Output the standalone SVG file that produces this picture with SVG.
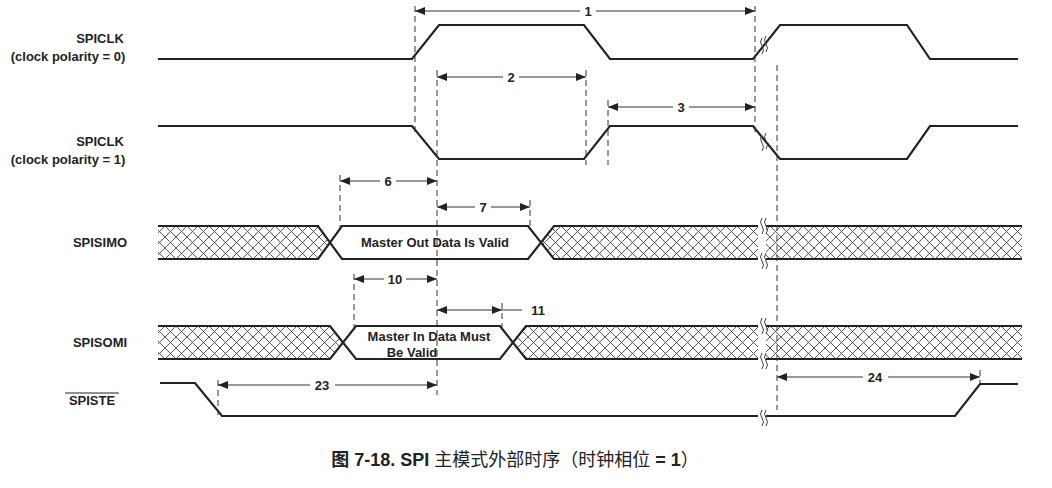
<svg xmlns="http://www.w3.org/2000/svg" width="1052" height="488" viewBox="0 0 1052 488">
<style>
.sig{fill:none;stroke:#222;stroke-width:2.2}
.dash{fill:none;stroke:#333;stroke-width:1;stroke-dasharray:6,4}
.dim{fill:none;stroke:#333;stroke-width:1}
.lbl{font-family:"Liberation Sans",Arial,sans-serif;font-weight:bold;font-size:13px;fill:#222}
.num{font-family:"Liberation Sans",Arial,sans-serif;font-weight:bold;font-size:13px;fill:#222;text-anchor:middle}
.brk{fill:none;stroke:#444;stroke-width:1}
</style>
<defs>
<pattern id="hatch" width="11" height="11" patternUnits="userSpaceOnUse" y="226">
<path d="M0,0 L11,11 M11,0 L0,11" stroke="#444" stroke-width="0.9"/>
</pattern>
<pattern id="hatch2" width="11" height="11" patternUnits="userSpaceOnUse" y="326">
<path d="M0,0 L11,11 M11,0 L0,11" stroke="#444" stroke-width="0.9"/>
</pattern>
<marker id="ah" viewBox="0 0 10 8" refX="10" refY="4" markerWidth="10" markerHeight="8" markerUnits="userSpaceOnUse" orient="auto-start-reverse">
<path d="M0,0 L10,4 L0,8 z" fill="#222"/>
</marker>
</defs>
<rect width="1052" height="488" fill="#fff"/>

<g id="labels">
<text class="lbl" x="100" y="43" text-anchor="middle">SPICLK</text>
<text class="lbl" x="68" y="61" text-anchor="middle">(clock polarity = 0)</text>
<text class="lbl" x="100" y="146" text-anchor="middle">SPICLK</text>
<text class="lbl" x="68" y="164" text-anchor="middle">(clock polarity = 1)</text>
<text class="lbl" x="100" y="247" text-anchor="middle">SPISIMO</text>
<text class="lbl" x="100" y="347" text-anchor="middle">SPISOMI</text>
<text class="lbl" x="92" y="405" text-anchor="middle">SPISTE</text>
<line x1="65" y1="393" x2="119" y2="393" stroke="#222" stroke-width="1"/>
</g>

<g id="spiclk0">
<path class="sig" d="M158,59 H412 L439,25 H584 L610,59 H753 L780,25 H907 L930,59 H1018"/>
</g>
<g id="spiclk1">
<path class="sig" d="M158,126 H412 L439,159 H584 L610,126 H753 L780,159 H907 L930,126 H1018"/>
</g>

<g id="spisimo">
<path d="M158,226 H318 L330,242.5 L318,259 H158 Z" fill="url(#hatch)"/>
<path d="M554,226 H1022 V259 H554 L542,242.5 Z" fill="url(#hatch)"/>
<path class="sig" d="M158,226 H318 L342,259 H528 L554,226 H1022 M158,259 H318 L342,226 H528 L554,259 H1022"/>
<text class="num" x="435" y="247" font-size="14">Master Out Data Is Valid</text>
</g>

<g id="spisomi">
<path d="M158,326 H330 L343,342.5 L330,359 H158 Z" fill="url(#hatch2)"/>
<path d="M526,326 H1022 V359 H526 L513,342.5 Z" fill="url(#hatch2)"/>
<path class="sig" d="M158,326 H330 L356,359 H500 L526,326 H1022 M158,359 H330 L356,326 H500 L526,359 H1022"/>
<text class="num" x="429" y="341">Master In Data Must</text>
<text class="num" x="412" y="357">Be Valid</text>
</g>

<g id="spiste">
<path class="sig" d="M160,383 H195 L222,416 H955 L980,384 H1018"/>
</g>

<g id="breaks" fill="#fff">
<rect x="758" y="220" width="8" height="44" stroke="none"/>
<rect x="758" y="320" width="8" height="44" stroke="none"/>
<rect x="758" y="410" width="8" height="12" stroke="none"/>
<path class="brk" d="M762,38 q-3,4 0,8 q3,4 0,8 M766,36 q-3,4 0,8 q3,4 0,8"/>
<path class="brk" d="M762,135 q-3,4 0,8 q3,4 0,8 M766,133 q-3,4 0,8 q3,4 0,8"/>
<path class="brk" d="M762,218 q-3,4 0,8 q3,4 0,8 M766,218 q-3,4 0,8 q3,4 0,8 M762,253 q-3,4 0,8 q3,4 0,8 M766,253 q-3,4 0,8 q3,4 0,8"/>
<path class="brk" d="M762,318 q-3,4 0,8 q3,4 0,8 M766,318 q-3,4 0,8 q3,4 0,8 M762,353 q-3,4 0,8 q3,4 0,8 M766,353 q-3,4 0,8 q3,4 0,8"/>
<path class="brk" d="M762,410 q-3,4 0,8 q3,4 0,8 M766,410 q-3,4 0,8 q3,4 0,8"/>
</g>

<g id="connectors">
<path class="dash" d="M415,6 V132 M437,70 V395 M586,70 V165 M608,100 V165 M755,6 V132 M777,65 V410 M340,175 V228 M530,200 V228 M354,274 V330 M502,303 V330 M218,380 V415 M980,370 V384"/>
<path class="dim" d="M415,11 H580" marker-start="url(#ah)"/>
<path class="dim" d="M596,11 H755" marker-end="url(#ah)"/>
<path class="dim" d="M437,77 H503" marker-start="url(#ah)"/>
<path class="dim" d="M519,77 H586" marker-end="url(#ah)"/>
<path class="dim" d="M608,107 H673" marker-start="url(#ah)"/>
<path class="dim" d="M689,107 H755" marker-end="url(#ah)"/>
<path class="dim" d="M340,181 H380" marker-start="url(#ah)"/>
<path class="dim" d="M396,181 H437" marker-end="url(#ah)"/>
<path class="dim" d="M437,207 H475" marker-start="url(#ah)"/>
<path class="dim" d="M491,207 H530" marker-end="url(#ah)"/>
<path class="dim" d="M354,279 H384" marker-start="url(#ah)"/>
<path class="dim" d="M406,279 H437" marker-end="url(#ah)"/>
<path class="dim" d="M437,310 H502" marker-start="url(#ah)" marker-end="url(#ah)"/>
<path class="dim" d="M502,310 H522"/>
<path class="dim" d="M218,385 H310" marker-start="url(#ah)"/>
<path class="dim" d="M335,385 H437" marker-end="url(#ah)"/>
<path class="dim" d="M777,377 H863" marker-start="url(#ah)"/>
<path class="dim" d="M888,377 H980" marker-end="url(#ah)"/>
<text class="num" x="588" y="16">1</text>
<text class="num" x="511" y="82">2</text>
<text class="num" x="681" y="112">3</text>
<text class="num" x="388" y="186">6</text>
<text class="num" x="483" y="212">7</text>
<text class="num" x="395" y="284">10</text>
<text class="num" x="538" y="315">11</text>
<text class="num" x="322" y="390">23</text>
<text class="num" x="875" y="382">24</text>
</g>

<text x="515" y="466" text-anchor="middle" font-family="'Liberation Sans','Noto Sans CJK SC',sans-serif" font-size="18" fill="#222"><tspan font-weight="bold">图 7-18. SPI </tspan>主模式外部时序（时钟相位 <tspan font-weight="bold">= 1</tspan>）</text>
</svg>
